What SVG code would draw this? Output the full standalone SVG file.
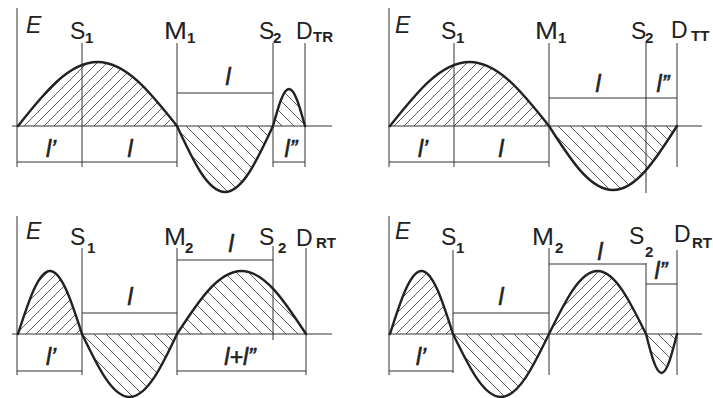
<svg xmlns="http://www.w3.org/2000/svg" width="713" height="398" viewBox="0 0 713 398">
<style>
.ln{stroke:#333;stroke-width:1;fill:none}
.cv{stroke:#222;stroke-width:2.4;fill:none;stroke-linejoin:round;stroke-linecap:round}
.hf{fill:url(#hatchF);stroke:none}
.hb{fill:url(#hatchB);stroke:none}
.lb{font-family:"Liberation Sans",Arial,sans-serif;font-size:23px;fill:#222}
.it{font-style:italic}
.sb{font-family:"Liberation Sans",Arial,sans-serif;font-size:15px;font-weight:bold;fill:#222}
.dl{font-family:"Liberation Sans",Arial,sans-serif;font-size:23px;font-style:italic;fill:#222;stroke:#222;stroke-width:0.6;text-anchor:middle}
</style>
<defs>
<pattern id="hatchF" patternUnits="userSpaceOnUse" width="10" height="10">
<path d="M-2,12 L12,-2 M-2,2 L2,-2 M8,12 L12,8" stroke="#333" stroke-width="0.8"/>
</pattern>
<pattern id="hatchB" patternUnits="userSpaceOnUse" width="12" height="12">
<path d="M-2,-2 L14,14 M-2,10 L2,14 M10,-2 L14,2" stroke="#333" stroke-width="0.8"/>
</pattern>
</defs>
<rect width="713" height="398" fill="#fff"/>

<g id="panel-TR">
<path class="hf" d="M18,126 C44.6,92.4 68.9,62 97.5,62 C126.1,62 150.4,92.4 177,126 Z"/>
<path class="hb" d="M177,126 C193.05,160.66 207.72,192 225,192 C242.28,192 256.95,160.66 273,126 Z"/>
<path class="hb" d="M273,126 C278.35,106.57 283.24,89 289,89 C294.76,89 299.65,106.57 305,126 Z"/>
<g id="conn-TR">
<path class="ln" d="M12,126 H332 M17,8 V167 M82,43 V167 M177,43 V167 M273,43 V167 M305,43 V167 M177,93 H273 M17,162 H177 M273,162 H305"/>
</g>
<path class="cv" d="M18,126 C44.6,92.4 68.9,62 97.5,62 C126.1,62 150.4,92.4 177,126 C193.05,160.66 207.72,192 225,192 C242.28,192 256.95,160.66 273,126 C278.35,106.57 283.24,89 289,89 C294.76,89 299.65,106.57 305,126"/>
<text class="lb it" x="26" y="33">E</text>
<text class="lb" x="70" y="39">S</text><text class="sb" x="85" y="43">1</text>
<text class="lb" x="164" y="39" textLength="23" lengthAdjust="spacingAndGlyphs">M</text><text class="sb" x="187" y="43">1</text>
<text class="lb" x="259" y="39">S</text><text class="sb" x="273" y="43">2</text>
<text class="lb" x="296" y="39">D</text><text class="sb" x="313" y="42">TR</text>
<text class="dl" x="228" y="85">l</text>
<text class="dl" x="51" y="157">l’</text>
<text class="dl" x="130" y="157">l</text>
<text class="dl" x="291" y="157">l”</text>
</g>

<g id="panel-TT">
<path class="hf" d="M390,126 C416.6,92.4 440.9,62 469.5,62 C498.1,62 522.4,92.4 549,126 Z"/>
<path class="hb" d="M549,126 C570.4,159.6 589.97,190 613,190 C636.03,190 655.6,159.6 677,126 Z"/>
<g id="conn-TT">
<path class="ln" d="M388,126 H702 M389,8 V167 M454,43 V167 M549,43 V167 M646,43 V193 M677,43 V167 M549,98 H677 M389,162 H549"/>
</g>
<path class="cv" d="M390,126 C416.6,92.4 440.9,62 469.5,62 C498.1,62 522.4,92.4 549,126 C570.4,159.6 589.97,190 613,190 C636.03,190 655.6,159.6 677,126"/>
<text class="lb it" x="395" y="33">E</text>
<text class="lb" x="441" y="39">S</text><text class="sb" x="456" y="43">1</text>
<text class="lb" x="535" y="39" textLength="23" lengthAdjust="spacingAndGlyphs">M</text><text class="sb" x="558" y="43">1</text>
<text class="lb" x="631" y="39">S</text><text class="sb" x="645" y="43">2</text>
<text class="lb" x="671" y="38">D</text><text class="sb" x="691" y="41">TT</text>
<text class="dl" x="598" y="92">l</text>
<text class="dl" x="663" y="92">l”</text>
<text class="dl" x="423" y="157">l’</text>
<text class="dl" x="501" y="157">l</text>
</g>

<g id="panel-RT1">
<path class="hf" d="M18,334 C28.7,300.92 38.48,271 50,271 C61.52,271 71.3,300.92 82,334 Z"/>
<path class="hb" d="M82,334 C97.88,367.08 112.4,397 129.5,397 C146.6,397 161.62,367.08 177,334 Z"/>
<path class="hb" d="M177,334 C198.56,300.92 218.29,271 241.5,271 C264.71,271 284.44,300.92 306,334 Z"/>
<g id="conn-RT1">
<path class="ln" d="M12,334 H332 M17,216 V375 M82,248 V375 M177,248 V375 M273,246 V340 M306,248 V375 M177,260 H273 M82,313 H177 M17,371 H82 M177,371 H306"/>
</g>
<path class="cv" d="M18,334 C28.7,300.92 38.48,271 50,271 C61.52,271 71.3,300.92 82,334 C97.88,367.08 112.4,397 129.5,397 C146.6,397 161.62,367.08 177,334 C198.56,300.92 218.29,271 241.5,271 C264.71,271 284.44,300.92 306,334"/>
<text class="lb it" x="26" y="239">E</text>
<text class="lb" x="70" y="245">S</text><text class="sb" x="87" y="253">1</text>
<text class="lb" x="164" y="245" textLength="22" lengthAdjust="spacingAndGlyphs">M</text><text class="sb" x="185" y="253">2</text>
<text class="lb" x="259" y="245">S</text><text class="sb" x="278" y="253">2</text>
<text class="lb" x="296" y="246">D</text><text class="sb" x="316" y="248">RT</text>
<text class="dl" x="231" y="252">l</text>
<text class="dl" x="130" y="305">l</text>
<text class="dl" x="51" y="365">l’</text>
<text class="dl" x="240" y="365">l+l”</text>
</g>

<g id="panel-RT2">
<path class="hf" d="M390,334 C400.53,300.92 410.16,271 421.5,271 C432.84,271 442.47,300.92 453,334 Z"/>
<path class="hb" d="M453,334 C469.05,367.08 483.72,397 501,397 C518.28,397 532.95,367.08 549,334 Z"/>
<path class="hf" d="M549,334 C565.21,300.92 580.04,271 597.5,271 C614.96,271 629.79,300.92 646,334 Z"/>
<path class="hb" d="M646,334 C651.18,354.48 655.92,373 661.5,373 C667.08,373 671.82,354.48 677,334 Z"/>
<g id="conn-RT2">
<path class="ln" d="M388,334 H702 M389,216 V375 M453,250 V373 M549,248 V375 M646,263 V334 M677,250 V375 M453,313 H549 M549,264 H646 M646,284 H677 M389,371 H453"/>
</g>
<path class="cv" d="M390,334 C400.53,300.92 410.16,271 421.5,271 C432.84,271 442.47,300.92 453,334 C469.05,367.08 483.72,397 501,397 C518.28,397 532.95,367.08 549,334 C565.21,300.92 580.04,271 597.5,271 C614.96,271 629.79,300.92 646,334 C651.18,354.48 655.92,373 661.5,373 C667.08,373 671.82,354.48 677,334"/>
<text class="lb it" x="395" y="239">E</text>
<text class="lb" x="441" y="245">S</text><text class="sb" x="456" y="253">1</text>
<text class="lb" x="532" y="245" textLength="22" lengthAdjust="spacingAndGlyphs">M</text><text class="sb" x="555" y="253">2</text>
<text class="lb" x="629" y="244">S</text><text class="sb" x="645" y="257">2</text>
<text class="lb" x="674" y="242">D</text><text class="sb" x="692" y="248">RT</text>
<text class="dl" x="501" y="305">l</text>
<text class="dl" x="600" y="260">l</text>
<text class="dl" x="661" y="279">l”</text>
<text class="dl" x="421" y="365">l’</text>
</g>
</svg>
